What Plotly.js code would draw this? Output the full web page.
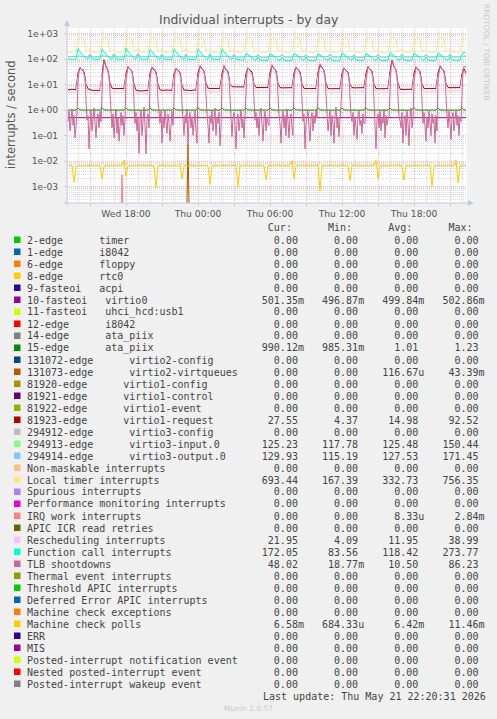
<!DOCTYPE html>
<html><head><meta charset="utf-8">
<script src="https://cdn.plot.ly/plotly-3.0.1.min.js"></script>
<style>html,body{margin:0;padding:0;background:#F0F0F0;}#chart{width:497px;height:719px;}</style>
</head><body><div id="chart"></div>
<script>
// ---------- data (10-minute samples, Wed 2026-05-20 13:10 .. Thu 2026-05-21 22:20) ----------
const startTime = '2026-05-20 13:10';

const virtio0 = [
0.50,0.50,0.50,0.50,0.50,
0.50,0.50,0.50,0.50,0.50,0.50,0.50,0.50,0.50,0.50,0.50,0.50,
0.50,0.50,0.50,0.50,0.50,0.50,0.50,0.50,0.50,0.50,0.50,0.50,
0.50,0.50,0.50,0.50,0.50,0.50,0.50,0.50,0.50,0.50,0.50,0.50,
0.50,0.50,0.50,0.50,0.50,0.50,0.50,0.50,0.50,0.50,0.50,0.50,
0.50,0.50,0.50,0.50,0.50,0.50,0.50,0.50,0.50,0.50,0.50,0.50,
0.50,0.50,0.50,0.50,0.50,0.50,0.50,0.50,0.50,0.50,0.50,0.50,
0.50,0.50,0.50,0.50,0.50,0.50,0.50,0.50,0.50,0.50,0.50,0.50,
0.50,0.50,0.50,0.50,0.50,0.50,0.50,0.50,0.50,0.50,0.50,0.50,
0.50,0.50,0.50,0.50,0.50,0.50,0.50,0.50,0.50,0.50,0.50,0.50,
0.50,0.50,0.50,0.50,0.50,0.50,0.50,0.50,0.50,0.50,0.50,0.50,
0.50,0.50,0.50,0.50,0.50,0.50,0.50,0.50,0.50,0.50,0.50,0.50,
0.50,0.50,0.50,0.50,0.50,0.50,0.50,0.50,0.50,0.50,0.50,0.50,
0.50,0.50,0.50,0.50,0.50,0.50,0.50,0.50,0.50,0.50,0.50,0.50,
0.50,0.50,0.50,0.50,0.50,0.50,0.50,0.50,0.50,0.50,0.50,0.50,
0.50,0.50,0.50,0.50,0.50,0.50,0.50,0.50,0.50,0.50,0.50,0.50,
0.50,0.50,0.50,0.50,0.50,0.50,0.50,0.50,0.50,0.50,0.50,0.50,
0.50,0.50,0.50];

const ataPiix15 = [
1.00,0.99,1.00,1.00,0.99,
1.20,1.02,1.00,0.99,1.00,0.99,1.00,0.99,0.99,1.00,0.99,0.99,
1.22,1.03,1.00,0.99,1.00,0.99,1.00,0.99,0.99,1.00,0.99,0.99,
1.19,1.02,1.00,0.99,1.00,0.99,1.00,0.99,0.99,1.00,0.99,0.99,
1.21,1.02,1.00,0.99,1.00,0.99,1.00,0.99,0.99,1.00,0.99,0.99,
1.20,1.02,1.00,0.99,1.00,0.99,1.00,0.99,0.99,1.00,0.99,0.99,
1.23,1.03,1.00,0.99,1.00,0.99,1.00,0.99,0.99,1.00,0.99,0.99,
1.20,1.02,1.00,0.99,1.00,0.99,1.00,0.99,0.99,1.00,0.99,0.99,
1.18,1.02,1.00,0.99,1.00,0.99,1.00,0.99,0.99,1.00,0.99,0.99,
1.21,1.02,1.00,0.99,1.00,0.99,1.00,0.99,0.99,1.00,0.99,0.99,
1.20,1.02,1.00,0.99,1.00,0.99,1.00,0.99,0.99,1.00,0.99,0.99,
1.22,1.03,1.00,0.99,1.00,0.99,1.00,0.99,0.99,1.00,0.99,0.99,
1.19,1.02,1.00,0.99,1.00,0.99,1.00,0.99,0.99,1.00,0.99,0.99,
1.21,1.02,1.00,0.99,1.00,0.99,1.00,0.99,0.99,1.00,0.99,0.99,
1.20,1.02,1.00,0.99,1.00,0.99,1.00,0.99,0.99,1.00,0.99,0.99,
1.22,1.02,1.00,0.99,1.00,0.99,1.00,0.99,0.99,1.00,0.99,0.99,
1.20,1.02,1.00,0.99,1.00,0.99,1.00,0.99,0.99,1.00,0.99,0.99,
1.21,1.01,0.99];

const virtio1Request = [
6.4,6.2,6.6,6.3,6.5,
28,44,38,32,10,6.8,6.2,5.9,5.8,6.0,5.7,6.0,
30,92.52,52,36,11,7.2,6.9,7.0,6.8,7.1,6.9,7.0,
27,48,40,33,10,6.0,5.7,5.6,5.5,5.8,5.6,5.7,
28,46,38,31,10,6.2,5.9,6.0,5.8,6.1,5.9,6.0,
26,42,35,30,9,6.1,6.0,5.9,6.0,5.8,6.1,6.0,
29,50,42,34,11,7.2,7.0,6.9,7.1,6.8,7.0,7.1,
28,47,39,32,10,8.3,8.1,8.0,8.2,7.9,8.1,8.0,
27,45,37,31,10,7.8,7.6,7.7,7.5,7.8,7.6,7.7,
30,52,43,35,11,7.6,7.4,7.5,7.3,7.6,7.4,7.5,
28,46,38,32,10,7.1,6.9,7.0,6.8,7.1,6.9,7.0,
31,55,45,36,11,7.0,6.8,6.9,6.7,7.0,6.8,6.9,
27,44,36,30,9.5,7.6,7.4,7.5,7.3,7.6,7.4,7.5,
28,48,40,33,10,7.0,6.8,6.9,6.7,7.0,6.8,6.9,
32,88,50,37,11,6.6,6.4,6.5,6.3,6.6,6.4,6.5,
28,47,39,32,10,7.1,6.9,7.0,6.8,7.1,6.9,7.0,
29,50,42,34,10.5,7.7,7.5,7.6,7.4,7.7,7.5,7.6,
26,42,27.55];

const virtio3Input = [
124,123,125,124,124,
126,125,124,124,122,121,142,122,120,119,120,121,
127,125,124,123,122,121,145,122,120,119,120,121,
128,126,125,124,123,121,150.44,123,121,120,121,122,
126,125,124,123,122,120,140,122,120,119,120,121,
125,124,124,123,122,120,138,121,120,119,120,121,
127,126,125,124,123,121,144,122,121,120,121,122,
126,125,124,123,122,121,141,122,120,119,120,121,
125,124,123,122,121,120,138,121,119,118,119,120,
127,125,124,123,122,121,143,122,120,119,120,121,
126,125,124,123,122,120,140,121,120,118,119,121,
128,126,125,124,123,121,146,123,121,120,121,122,
125,124,123,122,121,120,139,121,119,117.78,119,120,
126,125,124,123,122,121,142,122,120,119,120,121,
128,126,125,124,123,121,147,123,121,120,121,122,
126,125,124,123,122,121,141,122,120,119,120,121,
127,125,124,123,122,121,143,122,120,119,120,121,
126,124,125.23];

const virtio3Output = [
124,123,125,122,124,
132,130,128,127,124,122,160,124,121,120,121,122,
134,131,129,127,125,122,165,124,121,120,121,123,
135,132,130,128,125,123,171.45,125,122,121,122,123,
131,129,127,126,124,121,158,123,120,119,120,122,
132,130,128,127,124,122,162,124,121,120,121,122,
133,131,129,127,125,122,164,124,121,120,121,122,
131,129,128,126,124,121,156,123,120,119,120,121,
130,128,127,125,123,120,150,122,119,118,119,121,
132,130,128,127,124,122,155,123,120,119,120,122,
131,129,127,126,124,121,152,122,119,118,119,121,
133,131,129,127,125,122,158,124,121,120,121,122,
130,128,126,125,123,120,150,121,118,115.19,118,120,
132,130,128,126,124,121,154,123,120,119,120,121,
134,131,129,127,125,122,160,124,121,120,121,122,
131,129,128,126,124,121,153,122,120,119,120,121,
133,130,128,127,125,122,157,124,121,120,121,122,
130,127,129.93];

const localTimer = [
192,188,190,186,194,
520,712,705,560,210,198,255,192,186,184,188,190,
530,720,708,555,205,196,248,190,184,186,185,189,
515,715,702,565,212,200,260,194,187,183,186,188,
525,710,700,550,208,197,250,191,185,182,184,187,
520,718,706,558,210,199,255,193,186,184,186,190,
535,722,710,562,212,201,252,192,185,183,185,188,
522,716,704,552,206,198,246,190,183,181,184,186,
510,712,700,548,204,195,240,189,182,180,183,185,
526,719,707,556,209,197,244,191,184,182,185,188,
530,724,712,560,211,199,248,192,185,183,186,189,
518,714,703,550,205,196,238,190,183,181,184,187,
528,720,709,557,208,198,245,191,184,182,185,188,
516,713,704,549,204,195,236,189,182,167.39,183,186,
536,756.35,715,565,213,200,250,193,186,184,187,190,
522,717,706,553,207,197,242,190,183,181,184,187,
529,721,710,558,210,199,247,192,185,183,186,189,
540,712,693.44];

const rescheduling = [
4.9,4.7,5.0,4.8,4.9,
20,32,28,24,8,5.0,4.8,4.6,4.5,4.7,4.6,4.8,
22,38.99,33,26,9,5.2,5.0,4.9,4.8,5.0,4.9,5.1,
21,33,29,25,8,4.6,4.4,4.3,4.09,4.4,4.3,4.5,
20,31,27,24,8,4.8,4.6,4.7,4.5,4.7,4.6,4.7,
19,30,26,23,7.5,4.7,4.6,4.5,4.6,4.4,4.6,4.6,
21,34,30,26,9,5.4,5.2,5.1,5.3,5.0,5.2,5.3,
20,33,28,25,8.5,6.2,6.0,5.9,6.1,5.8,6.0,5.9,
19,31,27,24,8,5.8,5.6,5.7,5.5,5.8,5.6,5.7,
21,35,30,26,9,5.6,5.4,5.5,5.3,5.6,5.4,5.5,
20,32,28,24,8,5.2,5.0,5.1,4.9,5.2,5.0,5.1,
22,36,31,27,9,5.1,4.9,5.0,4.8,5.1,4.9,5.0,
19,31,27,23,7.5,5.6,5.4,5.5,5.3,5.6,5.4,5.5,
20,33,28,25,8,5.1,4.9,5.0,4.8,5.1,4.9,5.0,
23,37,32,27,9,4.9,4.7,4.8,4.6,4.9,4.7,4.8,
20,32,28,24,8,5.2,5.0,5.1,4.9,5.2,5.0,5.1,
21,34,29,25,8.5,5.7,5.5,5.6,5.4,5.7,5.5,5.6,
19,30,21.95];

const functionCall = [
102,98,100,96,104,
255,190,160,125,105,100,140,101,98,96,97,99,
245,185,158,122,104,99,136,100,97,95,96,98,
273.77,200,165,128,106,101,142,102,98,96,97,100,
240,182,155,120,103,98,134,99,96,94,95,97,
242,185,157,121,103,98,135,98,95,93,94,96,
250,190,160,124,104,99,138,99,96,94,95,97,
245,186,158,122,102,97,132,96,93,91,92,94,
168,148,132,108,94,90,122,91,88,86,87,89,
165,145,130,105,92,88,120,89,86,84,85,88,
170,150,134,108,94,90,124,90,87,85,86,89,
162,144,128,104,92,88,118,88,85,83.56,85,87,
172,152,136,110,95,90,125,91,88,86,87,90,
165,146,131,106,93,89,121,89,86,85,86,88,
178,156,138,112,96,91,127,92,88,86,88,91,
168,148,133,107,93,89,122,90,87,85,87,89,
174,153,136,110,95,90,126,91,88,86,88,90,
160,182,172.05];

const machineCheckPolls = [
0.0066,0.0064,0.0067,0.0015,0.0063,
0.0065,0.0068,0.0066,0.0064,0.0067,0.0065,0.0069,0.0066,0.0063,0.0066,0.0067,0.0065,
0.0020,0.0064,0.0066,0.0068,0.0065,0.0067,0.0064,0.0066,0.0068,0.0065,0.0067,0.0110,
0.0025,0.0066,0.0064,0.0067,0.0065,0.0068,0.0066,0.0064,0.0067,0.0065,0.0066,0.0068,
0.0065,0.0067,0.0064,0.0009,0.0066,0.0068,0.0065,0.0067,0.0064,0.0066,0.0068,0.0065,
0.0067,0.0064,0.0066,0.0080,0.0020,0.0065,0.0067,0.0064,0.0066,0.0068,0.0065,0.0067,
0.0064,0.0066,0.0068,0.0065,0.0067,0.0064,0.0012,0.0066,0.0068,0.0065,0.0067,0.0064,
0.0066,0.0068,0.0065,0.0067,0.0064,0.0066,0.0068,0.0065,0.0010,0.0067,0.0064,0.0066,
0.0068,0.0065,0.0067,0.0064,0.0066,0.0068,0.0065,0.0067,0.0064,0.0066,0.0018,0.0065,
0.0067,0.0064,0.0066,0.0068,0.0065,0.0067,0.0064,0.0066,0.0068,0.0065,0.0067,0.0105,
0.0020,0.0066,0.0068,0.0065,0.0067,0.0064,0.0066,0.0068,0.0065,0.0067,0.0064,0.0066,
0.0068,0.00068,0.0065,0.0067,0.0064,0.0066,0.0068,0.0065,0.0067,0.0064,0.0066,0.0068,
0.0065,0.0067,0.0064,0.0066,0.0017,0.0068,0.0065,0.0067,0.0064,0.0066,0.0068,0.0065,
0.0067,0.0064,0.0066,0.0068,0.0065,0.0112,0.0020,0.0067,0.0064,0.0066,0.0068,0.0065,
0.0067,0.0064,0.0066,0.0068,0.0065,0.0067,0.0064,0.0018,0.0068,0.0065,0.0067,0.0064,
0.0066,0.0068,0.0065,0.0067,0.0064,0.0066,0.0068,0.0065,0.0067,0.0010,0.0064,0.0066,
0.0068,0.0065,0.0067,0.0064,0.0066,0.0068,0.0065,0.0067,0.0064,0.0110,0.0014,0.0066,
0.0064,0.0067,0.00658];

// TLB shootdowns at 5-minute samples, Wed 13:10 .. Thu 22:20
const tlbShootdowns5min = [
0.35,0.9,0.15,0.5,1.1,0.25,0.6,0.08,0.4,0.7,
12,38,48,42,36,40,30,18,2.5,0.4,0.6,0.03,0.25,0.9,0.15,0.5,1.2,0.3,0.08,0.45,0.7,0.2,0.9,0.35,
16,45,86.23,60,48,42,35,22,3,0.5,0.2,0.7,0.08,0.4,1.1,0.12,0.5,0.06,0.3,0.8,0.25,0.6,0.1,0.4,
14,40,52,45,38,36,32,20,2,0.3,0.8,0.15,0.5,0.02,0.35,0.9,0.1,0.6,1.3,0.25,0.019,0.4,0.7,0.2,
13,36,48,44,40,35,28,18,2.2,0.6,0.3,0.9,0.05,0.5,0.2,1.0,0.4,0.12,0.7,0.3,0.06,0.5,0.9,0.25,
12,34,44,40,35,33,27,17,1.8,0.5,0.1,0.6,0.3,1.1,0.04,0.45,0.8,0.2,0.55,0.1,0.35,0.9,0.15,0.05,
15,42,55,48,42,38,32,21,2.6,0.7,0.25,0.05,0.6,0.3,0.9,0.15,0.4,1.2,0.1,0.5,0.3,0.8,0.04,0.2,
14,40,58,46,40,36,30,19,2.1,0.3,0.09,0.5,0.8,0.25,0.03,0.4,0.7,0.15,0.6,1.0,0.2,0.45,0.08,0.6,
12,35,45,40,36,33,27,17,1.6,0.4,0.8,0.2,0.5,0.1,0.7,1.2,0.3,0.06,0.4,0.9,0.15,0.5,0.3,0.25,
16,44,60,50,44,40,34,22,2.8,0.6,0.3,0.05,0.4,0.9,0.2,0.6,0.1,1.1,0.35,0.08,0.5,0.7,0.2,0.1,
13,38,48,43,38,35,29,18,2.0,0.35,0.7,0.03,0.3,0.5,0.9,0.2,0.06,0.45,0.8,0.15,0.6,0.3,1.0,0.5,
17,48,65,54,46,42,35,23,3.0,0.5,0.15,0.4,0.9,0.1,0.6,0.3,0.05,0.7,1.3,0.2,0.5,0.09,0.4,0.9,
12,36,46,41,37,34,28,17,1.7,0.6,0.35,0.8,0.1,0.5,0.2,0.07,0.6,0.9,0.25,0.4,0.12,0.7,0.3,0.3,
14,40,52,45,39,36,30,19,2.3,0.25,0.03,0.4,0.7,0.2,0.9,0.15,0.5,0.3,1.1,0.08,0.6,0.25,0.45,0.5,
18,50,78,60,48,42,36,24,3.2,0.5,0.4,0.2,0.8,0.05,0.35,0.6,0.1,0.9,0.3,0.04,0.5,1.2,0.2,0.4,
13,38,50,44,39,35,29,18,2.0,0.3,0.8,0.25,0.06,0.5,0.2,0.9,0.4,0.1,0.7,0.3,0.45,0.05,0.6,0.15,
15,42,56,48,42,38,31,20,2.5,0.6,0.2,0.9,0.3,0.07,0.5,0.8,0.15,0.4,1.0,0.25,0.6,0.1,0.5,0.35,
12,38,52,50,48.02];

// sparse series (all other samples are 0)
const virtio2VirtqueuesTimes = ['2026-05-20 23:00','2026-05-20 23:10','2026-05-20 23:20'];
const virtio2VirtqueuesValues = [0, 0.04339, 0];
const irqWorkTimes = ['2026-05-20 17:30','2026-05-20 17:40','2026-05-20 17:50'];
const irqWorkValues = [0, 0.00284, 0];

// legend table
const legendLabels = [
'2-edge      timer','1-edge      i8042','6-edge      floppy','8-edge      rtc0','9-fasteoi   acpi',
'10-fasteoi   virtio0','11-fasteoi   uhci_hcd:usb1','12-edge      i8042','14-edge      ata_piix','15-edge      ata_piix',
'131072-edge      virtio2-config','131073-edge      virtio2-virtqueues','81920-edge      virtio1-config','81921-edge      virtio1-control','81922-edge      virtio1-event',
'81923-edge      virtio1-request','294912-edge      virtio3-config','294913-edge      virtio3-input.0','294914-edge      virtio3-output.0','Non-maskable interrupts',
'Local timer interrupts','Spurious interrupts','Performance monitoring interrupts','IRQ work interrupts','APIC ICR read retries',
'Rescheduling interrupts','Function call interrupts','TLB shootdowns','Thermal event interrupts','Threshold APIC interrupts',
'Deferred Error APIC interrupts','Machine check exceptions','Machine check polls','ERR','MIS',
'Posted-interrupt notification event','Nested posted-interrupt event','Posted-interrupt wakeup event'];
const legendColors = [
'#00CC00','#0066B3','#FF8000','#FFCC00','#330099','#990099','#CCFF00','#FF0000','#808080','#008F00',
'#00487D','#B35A00','#B38F00','#6B006B','#8FB300','#B30000','#BEBEBE','#80FF80','#80C9FF','#FFC080',
'#FFE680','#AA80FF','#EE00CC','#FF8080','#666600','#FFBFFF','#00FFCC','#CC6699','#999900','#00CC00',
'#0066B3','#FF8000','#FFCC00','#330099','#990099','#CCFF00','#FF0000','#808080'];
const statCur = ['0.00','0.00','0.00','0.00','0.00','501.35m','0.00','0.00','0.00','990.12m','0.00','0.00','0.00','0.00','0.00','27.55','0.00','125.23','129.93','0.00','693.44','0.00','0.00','0.00','0.00','21.95','172.05','48.02','0.00','0.00','0.00','0.00','6.58m','0.00','0.00','0.00','0.00','0.00'];
const statMin = ['0.00','0.00','0.00','0.00','0.00','496.87m','0.00','0.00','0.00','985.31m','0.00','0.00','0.00','0.00','0.00','4.37','0.00','117.78','115.19','0.00','167.39','0.00','0.00','0.00','0.00','4.09','83.56','18.77m','0.00','0.00','0.00','0.00','684.33u','0.00','0.00','0.00','0.00','0.00'];
const statAvg = ['0.00','0.00','0.00','0.00','0.00','499.84m','0.00','0.00','0.00','1.01','0.00','116.67u','0.00','0.00','0.00','14.98','0.00','125.48','127.53','0.00','332.73','0.00','0.00','8.33u','0.00','11.95','118.42','10.50','0.00','0.00','0.00','0.00','6.42m','0.00','0.00','0.00','0.00','0.00'];
const statMax = ['0.00','0.00','0.00','0.00','0.00','502.86m','0.00','0.00','0.00','1.23','0.00','43.39m','0.00','0.00','0.00','92.52','0.00','150.44','171.45','0.00','756.35','0.00','0.00','2.84m','0.00','38.99','273.77','86.23','0.00','0.00','0.00','0.00','11.46m','0.00','0.00','0.00','0.00','0.00'];

const xTickVals = ['2026-05-20 15:00','2026-05-20 18:00','2026-05-20 21:00','2026-05-21 00:00','2026-05-21 03:00','2026-05-21 06:00','2026-05-21 09:00','2026-05-21 12:00','2026-05-21 15:00','2026-05-21 18:00','2026-05-21 21:00'];
const xTickText = ['','Wed 18:00','','Thu 00:00','','Thu 06:00','','Thu 12:00','','Thu 18:00',''];
const yTickVals = [1e-3,1e-2,1e-1,1,10,100,1000];
const yTickText = ['1e-03','1e-02','1e-01','1e+00','1e+01','1e+02','1e+03'];

// ---------- drawing ----------
function timeGrid(n, stepMin) {
  const out = [];
  const t0 = Date.UTC(2026,4,20,13,10);
  for (let i = 0; i < n; i++) out.push(new Date(t0 + i*stepMin*60000).toISOString().slice(0,16).replace('T',' '));
  return out;
}
const times = timeGrid(virtio0.length, 10);
const times5 = timeGrid(tlbShootdowns5min.length, 5);
const floorVal = v => (v > 0 ? v : 1e-6);   // rrdtool draws zeros off the bottom of a log axis

const series = [
  {y: virtio0, c: '#990099'},
  {y: ataPiix15, c: '#008F00'},
  {x: virtio2VirtqueuesTimes, y: virtio2VirtqueuesValues, c: '#B35A00'},
  {y: virtio1Request, c: '#B30000'},
  {y: virtio3Input, c: '#80FF80'},
  {y: virtio3Output, c: '#80C9FF'},
  {y: localTimer, c: '#FFE680'},
  {x: irqWorkTimes, y: irqWorkValues, c: '#FF8080'},
  {y: rescheduling, c: '#FFBFFF'},
  {y: functionCall, c: '#00FFCC'},
  {x: times5, y: tlbShootdowns5min, c: '#CC6699'},
  {y: machineCheckPolls, c: '#FFCC00'}
];
const traces = series.map(s => ({
  type: 'scatter', mode: 'lines', x: s.x || times, y: s.y.map(floorVal),
  line: {color: s.c, width: 1}, hoverinfo: 'skip', showlegend: false
}));

// pixel helpers (plot area: x 67..467, y 28..203)
const PL = 67, PR = 467, PT = 28, PB = 203;
const px = p => (p - PL) / (PR - PL);
const py = q => (PB - q) / (PB - PT);

const NB = '\u00A0';
function field(str, s, endCol) {
  let num = str, suf = ' ';
  if (/[a-zA-Z]$/.test(str)) { num = str.slice(0, -1); suf = str.slice(-1); }
  while (s.length < endCol + 1 - num.length) s += ' ';
  return s + num + suf;
}
const annotations = [];
const shapes = [];
const mono = {family: 'DejaVu Sans Mono', size: 10, color: '#444'};
let header = '';
while (header.length < 40) header += ' ';
header += 'Cur:      Min:      Avg:      Max:';
annotations.push({xref:'paper', yref:'paper', x: px(26), y: py(227), xanchor:'left', yanchor:'middle',
  text: header.replace(/ /g, NB), showarrow:false, font: mono, borderpad:0});
legendLabels.forEach((lab, i) => {
  const yc = 240 + 12*i;
  let s = lab;
  s = field(statCur[i], s, 44);
  s = field(statMin[i], s, 54);
  s = field(statAvg[i], s, 64);
  s = field(statMax[i], s, 74);
  annotations.push({xref:'paper', yref:'paper', x: px(26), y: py(yc), xanchor:'left', yanchor:'middle',
    text: s.replace(/ /g, NB), showarrow:false, font: mono, borderpad:0});
  shapes.push({type:'rect', xref:'paper', yref:'paper', x0: px(14), x1: px(20.5), y0: py(yc+3), y1: py(yc-3.5),
    fillcolor: legendColors[i], line:{width:0}});
});
annotations.push({xref:'paper', yref:'paper', x: px(262), y: py(696), xanchor:'left', yanchor:'middle',
  text: 'Last update: Thu May 21 22:20:31 2026'.replace(/ /g, NB), showarrow:false, font: mono, borderpad:0});
annotations.push({xref:'paper', yref:'paper', x: px(248.5), y: py(708), xanchor:'center', yanchor:'middle',
  text: 'Munin 2.0.57', showarrow:false, font:{family:'DejaVu Sans', size:7.5, color:'#C8C8C8'}, borderpad:0});
annotations.push({xref:'paper', yref:'paper', x: px(248.5), y: py(19), xanchor:'center', yanchor:'middle',
  text: 'Individual interrupts - by day', showarrow:false, font:{family:'DejaVu Sans', size:12.4, color:'#555'}, borderpad:0});
annotations.push({xref:'paper', yref:'paper', x: px(11), y: py(114), xanchor:'center', yanchor:'middle', textangle:-90,
  text: 'interrupts / second', showarrow:false, font:{family:'DejaVu Sans', size:11.5, color:'#555'}, borderpad:0});
annotations.push({xref:'paper', yref:'paper', x: px(487), y: py(52), xanchor:'center', yanchor:'middle', textangle:90,
  text: 'RRDTOOL / TOBI OETIKER', showarrow:false, font:{family:'DejaVu Sans', size:7.5, color:'#C8C8C8'}, borderpad:0});

// axis lines with arrows
const axisCol = '#C4C8EC';
shapes.push({type:'line', xref:'paper', yref:'paper', x0:px(67), x1:px(67), y0:py(206), y1:py(25), line:{color:axisCol, width:1}});
shapes.push({type:'line', xref:'paper', yref:'paper', x0:px(64), x1:px(470), y0:py(203), y1:py(203), line:{color:axisCol, width:1}});
shapes.push({type:'path', xref:'paper', yref:'paper',
  path:`M ${px(64)} ${py(26)} L ${px(70)} ${py(26)} L ${px(67)} ${py(20)} Z`, fillcolor:axisCol, line:{width:0}});
shapes.push({type:'path', xref:'paper', yref:'paper',
  path:`M ${px(468)} ${py(200)} L ${px(468)} ${py(206)} L ${px(474)} ${py(203)} Z`, fillcolor:axisCol, line:{width:0}});

const yMinor = [];
[1e-4,1e-3,1e-2,1e-1,1,10,100,1000].forEach(d => { for (let m = 2; m <= 9; m++) yMinor.push(d*m); });

const majorGrid = '#F3BEBE';
const minorGrid = '#DCDCDC';
const layout = {
  width: 497, height: 719,
  margin: {l: PL, r: 497 - PR, t: PT, b: 719 - PB},
  paper_bgcolor: '#F0F0F0', plot_bgcolor: '#FFFFFF',
  showlegend: false,
  font: {family: 'DejaVu Sans', color: '#555'},
  xaxis: {
    type: 'date', range: ['2026-05-20 13:05', '2026-05-21 22:25'],
    tickmode: 'array', tickvals: xTickVals, ticktext: xTickText,
    tickfont: {family: 'DejaVu Sans', size: 9.2, color: '#555'},
    showgrid: true, gridcolor: majorGrid, griddash: '1px,1px', gridwidth: 1,
    ticks: 'outside', ticklen: 2, tickcolor: majorGrid,
    minor: {tickmode: 'linear', tick0: '2026-05-20 00:00', dtick: 3600000, showgrid: true, gridcolor: minorGrid, griddash: '1px,1px', ticks: ''},
    showline: false, zeroline: false, fixedrange: true
  },
  yaxis: {
    type: 'log', range: [-3.647, 3.216],
    tickmode: 'array', tickvals: yTickVals, ticktext: yTickText,
    tickfont: {family: 'DejaVu Sans', size: 9.2, color: '#555'},
    showgrid: true, gridcolor: majorGrid, griddash: '1px,1px', gridwidth: 1,
    ticks: 'outside', ticklen: 2, tickcolor: majorGrid, ticklabelstandoff: 4,
    minor: {tickmode: 'array', tickvals: yMinor, showgrid: true, gridcolor: minorGrid, griddash: '1px,1px', ticks: ''},
    showline: false, zeroline: false, fixedrange: true
  },
  annotations: annotations,
  shapes: shapes
};
Plotly.newPlot('chart', traces, layout, {staticPlot: true, displayModeBar: false});
</script></body></html>
